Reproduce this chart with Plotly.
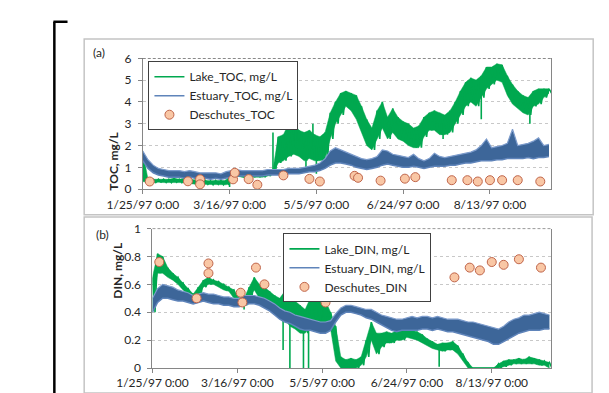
import pandas as pd
import plotly.graph_objects as go

# ---------------- data ----------------
bin_start = "1997-01-25"
bin_step_days = 3  # typical low/high envelope values read every 3 days

lake_toc_lo = [0.35, 0.3, 0.3, 0.32, 0.3, 0.3, 0.32, 0.3, 0.3, 0.28,
               0.22, 0.22, 0.22, 0.2, 0.22, 0.2, 0.2, 0.3, 0.6, 0.55,
               0.5, 0.55, 0.55, 0.55, 0.6, 0.7, 1.2, 1.3, 1.5, 1.6,
               1.5, 1.3, 1.4, 1.3, 1.3, 1.4, 2.3, 3.0, 3.4, 3.8,
               3.6, 3.2, 2.6, 2.0, 1.8, 2.3, 2.8, 2.3, 2.6, 2.3,
               2.2, 2.0, 1.9, 1.9, 2.4, 2.7, 2.7, 2.5, 2.5, 2.6,
               3.0, 3.4, 3.8, 4.0, 3.8, 4.2, 4.6, 4.8, 5.0, 4.9,
               4.3, 3.9, 3.7, 3.5, 3.4, 3.8, 3.9, 4.2, 4.4]
lake_toc_hi = [1.7, 0.45, 0.45, 0.45, 0.45, 0.45, 0.5, 0.45, 0.5, 0.45,
               0.4, 0.38, 0.4, 0.38, 0.4, 0.4, 0.4, 0.75, 0.85, 0.8,
               0.8, 0.75, 0.8, 0.8, 0.85, 0.9, 2.4, 2.5, 3.0, 3.0,
               2.7, 2.6, 2.7, 2.5, 2.4, 2.6, 3.5, 4.0, 4.4, 4.5,
               4.4, 4.3, 3.8, 3.2, 2.8, 3.6, 4.0, 3.3, 3.7, 3.3,
               3.1, 3.0, 2.8, 2.9, 3.3, 3.5, 3.6, 3.5, 3.4, 3.6,
               4.0, 4.5, 4.9, 5.1, 5.0, 5.2, 5.6, 5.6, 5.75, 5.7,
               5.2, 4.8, 4.5, 4.3, 4.2, 4.5, 4.6, 4.6, 4.6]
# single spikes of the lake record: date, level it leaves from, tip
lake_toc_spike_dates = ["1997-03-16", "1997-04-10", "1997-04-19", "1997-04-23",
                        "1997-04-29", "1997-05-03", "1997-05-05", "1997-05-09",
                        "1997-07-17", "1997-08-08", "1997-09-05"]
lake_toc_spike_base = [0.35, 0.8, 2.2, 2.2, 2.0, 2.0, 2.0, 2.0, 3.0, 4.5, 3.8]
lake_toc_spike_tip = [0.1, 2.6, 4.0, 3.6, 0.75, 3.0, 0.7, 1.0, 2.3, 3.2, 3.0]

est_toc_lo = [1.3, 0.95, 0.75, 0.65, 0.6, 0.55, 0.55, 0.55, 0.5, 0.55,
              0.5, 0.5, 0.5, 0.45, 0.5, 0.45, 0.5, 0.55, 0.6, 0.6,
              0.6, 0.6, 0.6, 0.6, 0.65, 0.65, 0.65, 0.65, 0.7, 0.7,
              0.7, 0.75, 0.8, 0.8, 0.85, 0.95, 1.1, 1.2, 1.2, 1.15,
              1.1, 1.0, 0.95, 0.9, 0.95, 1.0, 1.1, 1.15, 1.1, 1.05,
              1.0, 1.0, 1.05, 1.0, 0.95, 1.0, 1.05, 1.05, 1.05, 1.1,
              1.1, 1.15, 1.2, 1.2, 1.25, 1.3, 1.3, 1.3, 1.35, 1.35,
              1.4, 1.4, 1.4, 1.4, 1.45, 1.4, 1.45, 1.45, 1.5]
est_toc_hi = [1.75, 1.35, 1.1, 0.95, 0.9, 0.85, 0.85, 0.85, 0.8, 0.85,
              0.8, 0.75, 0.75, 0.75, 0.75, 0.7, 0.8, 0.85, 0.9, 0.85,
              0.85, 0.85, 0.85, 0.85, 0.9, 0.9, 0.9, 0.9, 0.95, 0.95,
              0.95, 1.0, 1.05, 1.1, 1.2, 1.4, 1.75, 1.9, 1.8, 1.7,
              1.6, 1.5, 1.4, 1.35, 1.4, 1.5, 1.8, 1.75, 1.6, 1.55,
              1.5, 1.45, 1.6, 1.4, 1.3, 1.4, 1.65, 1.5, 1.45, 1.5,
              1.55, 1.6, 1.65, 1.7, 1.8, 2.0, 2.3, 1.9, 1.95, 2.0,
              2.1, 2.75, 2.0, 2.05, 2.1, 2.2, 2.35, 2.0, 2.05]

lake_din_lo = [0.40, 0.68, 0.68, 0.65, 0.63, 0.6, 0.56, 0.53, 0.49, 0.52,
               0.58, 0.6, 0.6, 0.58, 0.56, 0.55, 0.5, 0.44, 0.45, 0.5,
               0.56, 0.5, 0.5, 0.47, 0.42, 0.4, 0.35, 0.3, 0.28, 0.25,
               0.25, 0.3, 0.3, 0.3, 0.3, 0.28, 0.05, 0.0, 0.0, 0.0,
               0.0, 0.02, 0.08, 0.2, 0.1, 0.15, 0.18, 0.18, 0.2, 0.2,
               0.22, 0.21, 0.2, 0.18, 0.16, 0.14, 0.13, 0.12, 0.13, 0.13,
               0.1, 0.05, 0.0, 0.0, 0.0, 0.0, 0.0, 0.0, 0.0, 0.01,
               0.02, 0.03, 0.03, 0.03, 0.03, 0.03, 0.02, 0.02, 0.0]
lake_din_hi = [0.65, 0.82, 0.8, 0.72, 0.68, 0.65, 0.61, 0.57, 0.53, 0.58,
               0.63, 0.65, 0.63, 0.62, 0.6, 0.58, 0.56, 0.5, 0.5, 0.58,
               0.65, 0.6, 0.58, 0.55, 0.52, 0.5, 0.55, 0.48, 0.48, 0.45,
               0.42, 0.5, 0.52, 0.48, 0.48, 0.4, 0.3, 0.08, 0.06, 0.07,
               0.06, 0.08, 0.2, 0.33, 0.25, 0.25, 0.26, 0.25, 0.27, 0.28,
               0.28, 0.27, 0.26, 0.24, 0.21, 0.19, 0.17, 0.18, 0.18, 0.19,
               0.16, 0.1, 0.04, 0.0, 0.0, 0.0, 0.0, 0.0, 0.03, 0.05,
               0.06, 0.06, 0.07, 0.06, 0.08, 0.07, 0.06, 0.05, 0.04]
lake_din_spike_dates = ["1997-03-20", "1997-04-12", "1997-04-16", "1997-04-24",
                        "1997-04-27", "1997-05-03", "1997-07-13"]
lake_din_spike_base = [0.48, 0.42, 0.38, 0.32, 0.32, 0.45, 0.15]
lake_din_spike_tip = [0.42, 0.13, 0.0, 0.0, 0.0, 0.6, 0.01]

est_din_lo = [0.40, 0.47, 0.5, 0.5, 0.49, 0.48, 0.48, 0.47, 0.46, 0.47,
              0.48, 0.47, 0.46, 0.46, 0.45, 0.45, 0.44, 0.44, 0.45, 0.46,
              0.46, 0.45, 0.43, 0.41, 0.38, 0.35, 0.33, 0.32, 0.3, 0.28,
              0.27, 0.27, 0.26, 0.25, 0.25, 0.27, 0.33, 0.38, 0.4, 0.4,
              0.39, 0.38, 0.36, 0.35, 0.33, 0.31, 0.29, 0.27, 0.26, 0.27,
              0.27, 0.27, 0.27, 0.28, 0.28, 0.27, 0.28, 0.27, 0.26, 0.26,
              0.25, 0.24, 0.23, 0.22, 0.21, 0.2, 0.19, 0.17, 0.17, 0.19,
              0.21, 0.23, 0.25, 0.26, 0.27, 0.27, 0.27, 0.28, 0.28]
est_din_hi = [0.5, 0.57, 0.6, 0.59, 0.58, 0.56, 0.55, 0.54, 0.52, 0.53,
              0.54, 0.53, 0.53, 0.52, 0.51, 0.51, 0.5, 0.5, 0.52, 0.52,
              0.52, 0.51, 0.5, 0.48, 0.46, 0.43, 0.41, 0.4, 0.38, 0.37,
              0.36, 0.35, 0.34, 0.33, 0.33, 0.34, 0.39, 0.43, 0.45, 0.45,
              0.44, 0.43, 0.42, 0.42, 0.4, 0.38, 0.37, 0.36, 0.35, 0.35,
              0.36, 0.37, 0.36, 0.37, 0.37, 0.36, 0.37, 0.36, 0.35, 0.35,
              0.35, 0.34, 0.33, 0.33, 0.32, 0.31, 0.3, 0.29, 0.28, 0.3,
              0.33, 0.35, 0.36, 0.38, 0.38, 0.39, 0.4, 0.39, 0.38]

desch_dates = ["1997-01-29", "1997-02-20", "1997-02-27", "1997-02-27", "1997-03-18",
               "1997-03-19", "1997-03-27", "1997-04-01", "1997-04-16", "1997-05-01",
               "1997-05-07", "1997-05-27", "1997-05-29", "1997-06-11", "1997-06-25",
               "1997-07-01", "1997-07-22", "1997-07-31", "1997-08-06", "1997-08-13",
               "1997-08-20", "1997-08-29", "1997-09-11"]
desch_toc = [0.35, 0.36, 0.45, 0.22, 0.45, 0.75, 0.46, 0.2, 0.63, 0.47,
             0.35, 0.61, 0.52, 0.39, 0.48, 0.55, 0.41, 0.41, 0.35, 0.41,
             0.41, 0.41, 0.35]
desch_din = [0.76, 0.50, 0.75, 0.68, 0.54, 0.47, 0.72, 0.60, 0.55, 0.59,
             0.47, 0.57, 0.55, 0.59, 0.59, 0.58, 0.65, 0.72, 0.70, 0.76,
             0.74, 0.78, 0.72]

tick_dates = ["1997-01-25", "1997-03-16", "1997-05-05", "1997-06-24", "1997-08-13"]
tick_labels = ["1/25/97 0:00", "3/16/97 0:00", "5/5/97 0:00", "6/24/97 0:00", "8/13/97 0:00"]

# ---------------- helpers ----------------
W, H = 609, 393
def fx(p):
    return p / W
def fy(p):
    return 1 - p / H

bins = pd.date_range(bin_start, periods=len(lake_toc_lo), freq=f"{bin_step_days}D")
half = pd.Timedelta(hours=36)

GREEN = "#00A84F"
BLUE_FILL = "#3D6699"
BLUE_EDGE = "#7C9BCB"
FONT = "Lato"

fig = go.Figure()

def zigzag(lo, hi):
    # each read low/high pair becomes one up-down stroke of the noisy record
    xs, ys = [], []
    for d, l, h in zip(bins, lo, hi):
        xs += [d, d + half]
        ys += [h, l]
    return xs, ys

def spikes(dates, base, tip):
    xs, ys = [], []
    for d, b, t in zip(dates, base, tip):
        xs += [d, d, None]
        ys += [b, t, None]
    return xs, ys

def add_panel(lake_lo, lake_hi, sp, est_lo, est_hi, dv, names, xa, ya, leg):
    # lake: filled envelope + noisy strokes + single spikes
    fig.add_trace(go.Scatter(x=bins, y=lake_lo, mode="lines", showlegend=False,
                             line=dict(color=GREEN, width=0.5), hoverinfo="skip",
                             xaxis=xa, yaxis=ya, legend=leg))
    fig.add_trace(go.Scatter(x=bins, y=lake_hi, mode="lines", showlegend=False,
                             fill="tonexty", fillcolor=GREEN, hoverinfo="skip",
                             line=dict(color=GREEN, width=0.5),
                             xaxis=xa, yaxis=ya, legend=leg))
    zx, zy = zigzag(lake_lo, lake_hi)
    fig.add_trace(go.Scatter(x=zx, y=zy, mode="lines", name=names[0],
                             line=dict(color=GREEN, width=1.6),
                             xaxis=xa, yaxis=ya, legend=leg))
    sx, sy = spikes(*sp)
    fig.add_trace(go.Scatter(x=sx, y=sy, mode="lines", showlegend=False,
                             line=dict(color=GREEN, width=1.6),
                             xaxis=xa, yaxis=ya, legend=leg))
    # estuary: tidal band
    fig.add_trace(go.Scatter(x=bins, y=est_lo, mode="lines", name=names[1],
                             line=dict(color="#5F84BA", width=1.5),
                             xaxis=xa, yaxis=ya, legend=leg))
    fig.add_trace(go.Scatter(x=bins, y=est_hi, mode="lines", showlegend=False,
                             fill="tonexty", fillcolor=BLUE_FILL,
                             line=dict(color=BLUE_EDGE, width=1.2),
                             xaxis=xa, yaxis=ya, legend=leg))
    fig.add_trace(go.Scatter(x=desch_dates, y=dv, mode="markers", name=names[2],
                             marker=dict(symbol="circle", size=9, color="#F9C7A5",
                                         line=dict(color="#C0654A", width=1)),
                             xaxis=xa, yaxis=ya, legend=leg))

add_panel(lake_toc_lo, lake_toc_hi,
          (lake_toc_spike_dates, lake_toc_spike_base, lake_toc_spike_tip),
          est_toc_lo, est_toc_hi, desch_toc,
          ["Lake_TOC, mg/L", "Estuary_TOC, mg/L", "Deschutes_TOC"], "x", "y", "legend")
add_panel(lake_din_lo, lake_din_hi,
          (lake_din_spike_dates, lake_din_spike_base, lake_din_spike_tip),
          est_din_lo, est_din_hi, desch_din,
          ["Lake_DIN, mg/L", "Estuary_DIN, mg/L", "Deschutes_DIN"], "x2", "y2", "legend2")

tickfont = dict(family=FONT, size=12, color="#262626")
xcommon = dict(type="date", tickvals=tick_dates, ticktext=tick_labels, showgrid=False,
               showline=True, linecolor="#868686", linewidth=1, ticks="outside",
               ticklen=4, tickcolor="#868686", tickfont=tickfont, zeroline=False)
ycommon = dict(showgrid=True, gridcolor="#C8C8C8", griddash="3px,3px", gridwidth=1,
               showline=True, mirror=True, linecolor="#868686", linewidth=1,
               ticks="outside", ticklen=4, tickcolor="#868686", tickfont=tickfont,
               zeroline=False, ticklabelstandoff=4)
legcommon = dict(xanchor="left", yanchor="top", bgcolor="white", bordercolor="#404040",
                 borderwidth=1, font=dict(family=FONT, size=12, color="#262626"),
                 itemwidth=30, tracegroupgap=0, traceorder="normal")

fig.update_layout(
    width=W, height=H, margin=dict(l=0, r=0, t=0, b=0),
    paper_bgcolor="white", plot_bgcolor="white",
    font=dict(family=FONT, size=12, color="#262626"),
    xaxis=dict(domain=[fx(105), fx(539)], range=["1997-01-25", "1997-09-17 06:00"],
               anchor="y", **xcommon),
    yaxis=dict(domain=[fy(180), fy(44)], range=[0, 6], dtick=1, anchor="x", **ycommon),
    xaxis2=dict(domain=[fx(115.3), fx(539)], range=["1997-01-25", "1997-09-17"],
                anchor="y2", **xcommon),
    yaxis2=dict(domain=[fy(366), fy(221)], range=[0, 1], dtick=0.2, anchor="x2", **ycommon),
    legend=dict(x=fx(111), y=fy(47), **legcommon),
    legend2=dict(x=fx(254.5), y=fy(226), **legcommon),
    showlegend=True,
)

shapes = [
    # outer panel frames
    dict(type="rect", xref="paper", yref="paper", x0=fx(42.7), x1=fx(583.7), y0=fy(206.7), y1=fy(24),
         line=dict(color="#C4C4C4", width=1.5)),
    dict(type="rect", xref="paper", yref="paper", x0=fx(42.7), x1=fx(582.5), y0=fy(392), y1=fy(209),
         line=dict(color="#C4C4C4", width=1.5)),
    # page border lines
    dict(type="line", xref="paper", yref="paper", x0=fx(11), x1=fx(11), y0=0, y1=fy(6),
         line=dict(color="black", width=2.5)),
    dict(type="line", xref="paper", yref="paper", x0=fx(10), x1=fx(25), y0=fy(6), y1=fy(6),
         line=dict(color="black", width=2.5)),
    dict(type="line", xref="paper", yref="paper", x0=fx(594), x1=1, y0=fy(6), y1=fy(6),
         line=dict(color="black", width=2.5)),
    # dashed dark top borders of plot areas
    dict(type="line", xref="x domain", yref="y", x0=0, x1=1, y0=6, y1=6,
         line=dict(color="#404040", width=1, dash="3px,2px")),
    dict(type="line", xref="x2 domain", yref="y2", x0=0, x1=1, y0=1, y1=1,
         line=dict(color="#404040", width=1, dash="3px,2px")),
]
fig.update_layout(shapes=shapes)

annos = [
    dict(text="(a)", x=fx(50), y=fy(38), xref="paper", yref="paper", xanchor="left",
         yanchor="middle", showarrow=False, font=dict(family=FONT, size=12, color="#262626")),
    dict(text="(b)", x=fx(53), y=fy(227), xref="paper", yref="paper", xanchor="left",
         yanchor="middle", showarrow=False, font=dict(family=FONT, size=12, color="#262626")),
    dict(text="<b>TOC, mg/L</b>", x=fx(64), y=fy(118), xref="paper", yref="paper",
         textangle=-90, showarrow=False, font=dict(family=FONT, size=12, color="#262626")),
    dict(text="<b>DIN, mg/L</b>", x=fx(68), y=fy(296), xref="paper", yref="paper",
         textangle=-90, showarrow=False, font=dict(family=FONT, size=12, color="#262626")),
]
fig.update_layout(annotations=annos)

fig.write_html("out.html")
